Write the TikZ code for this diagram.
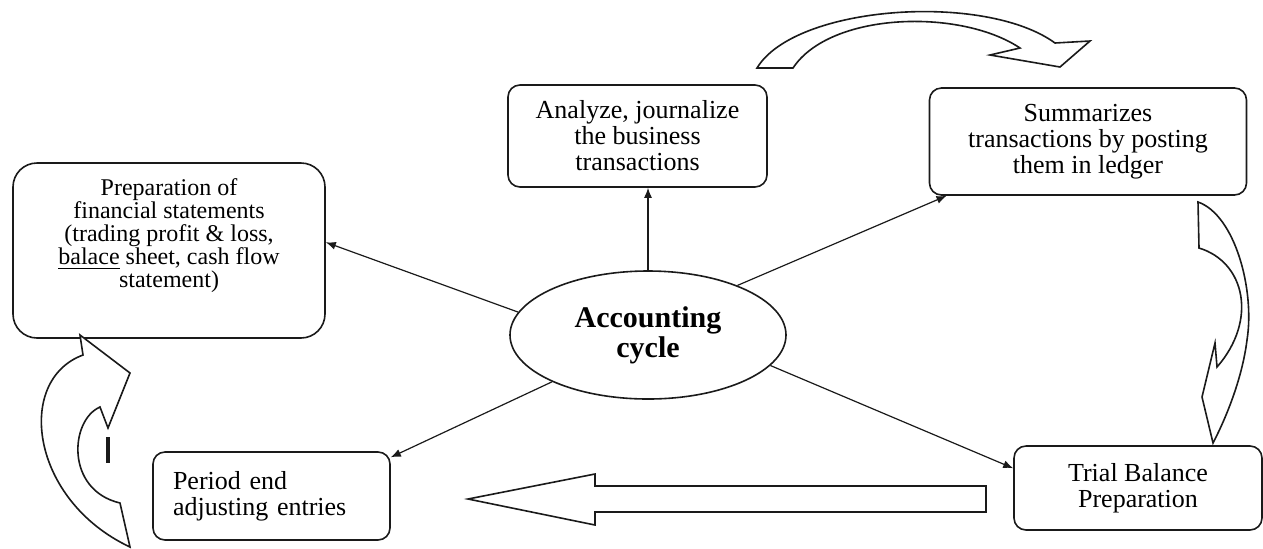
\documentclass[tikz,border=0pt]{standalone}
\usepackage{fontspec}
\setmainfont{Liberation Serif}
\usetikzlibrary{positioning,shapes.geometric,arrows.meta}
\definecolor{ink}{HTML}{1A1A1A}
\tikzset{
  >={Latex[length=5pt,width=4pt]},
  every node/.style={font=\fontsize{13}{13}\selectfont},
  % --- nodes
  box/.style  = {rounded corners=6pt, draw=ink, line width=0.8pt, fill=white,
                 align=center, inner sep=3pt},
  cyc/.style  = {ellipse, draw=ink, line width=0.8pt, inner sep=0pt, align=center,
                 font=\fontsize{15}{15}\selectfont\bfseries},
  % --- edges
  e/.style    = {->, draw=ink, line width=0.6pt},
  blk/.style  = {draw=ink, line width=0.8pt, fill=white, line join=miter},
}

\begin{document}
\begin{tikzpicture}[x=0.5pt,y=-0.5pt]
  \useasboundingbox (0,0) rectangle (1263,548);
  \node[cyc, minimum width=138pt, minimum height=64pt] (c) at (648,335) {Accounting\\cycle};
  \node[box, minimum width=129.5pt, minimum height=51pt] (ana) at (637.5,136)
    {Analyze, journalize\\the business\\transactions};
  \node[box, minimum width=158.5pt, minimum height=53.5pt] (sum) at (1088,141.5)
    {Summarizes\\transactions by posting\\them in ledger};
  \node[box, rounded corners=12pt, minimum width=156pt, minimum height=87.5pt,
        font=\fontsize{12}{11.5}\selectfont] (fin) at (169,250.5)
    {Preparation of\\financial statements\\(trading profit \& loss,\\\underline{balace} sheet, cash flow\\statement)\\[5.5pt]\mbox{}};
  \node[box, align=left, text width=98.5pt, inner xsep=10pt, minimum height=44pt] (pe) at (271.5,496)
    {Period end\\adjusting entries};
  \node[box, minimum width=124pt, minimum height=42pt] (tb) at (1138,488)
    {Trial Balance\\Preparation};
  \draw[e] (c.north) -- (c.north |- ana.south);
  \draw[e] (c.29) -- (sum.201);
  \draw[e] (c.170) -- (fin.3);
  \draw[e] (c.206) -- (pe.18);
  \draw[e] (c.-14) -- (tb.171);
  % block arrows
  \draw[blk] (757,68) .. controls (795,5) and (985,-8) .. (1055,43) -- (1090,41) -- (1060,67)
    -- (990,55) -- (1020,48) .. controls (960,8) and (830,12) .. (793,68) -- cycle;
  \draw[blk] (1198,202) .. controls (1235,215) and (1255,290) .. (1247,340)
    .. controls (1242,380) and (1225,420) .. (1213,443) -- (1202,397) -- (1215,343) -- (1217,367)
    .. controls (1258,320) and (1245,262) .. (1199,248) -- cycle;
  \draw[blk] (986,486) -- (595,486) -- (595,474) -- (468,499) -- (595,525) -- (595,512) -- (986,512) -- cycle;
  \draw[blk] (130,547) .. controls (30,500) and (15,380) .. (83,355) -- (80,335) -- (130,373)
    -- (108,428) -- (100,407) .. controls (70,420) and (65,490) .. (120,503) -- cycle;
  \draw[ink, line width=1.6pt] (108,437) -- (108,463);
\end{tikzpicture}
\end{document}
